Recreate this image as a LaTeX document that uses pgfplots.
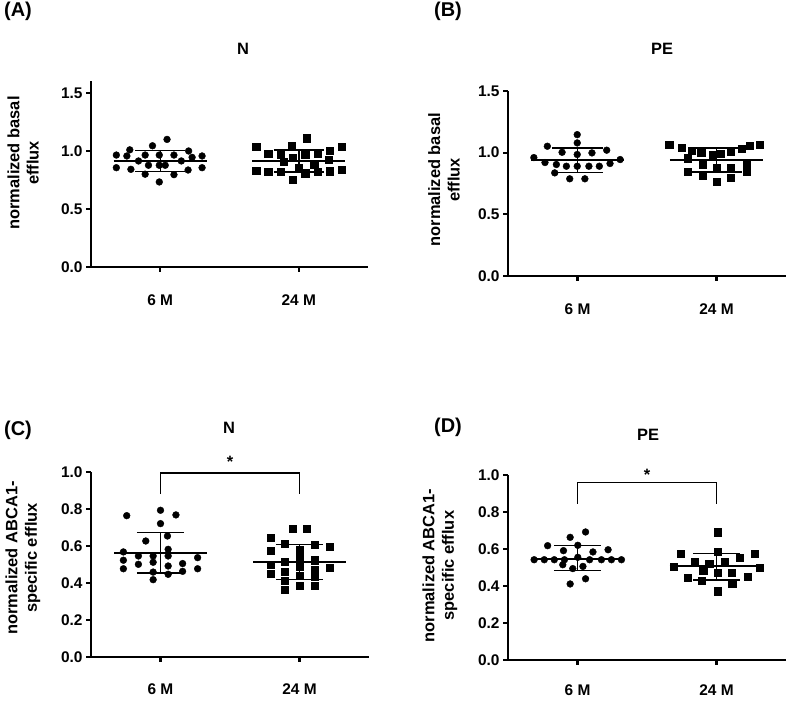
\documentclass[border=0pt]{standalone}
\usepackage{fontspec}
\setmainfont{Liberation Sans}
\usepackage{pgfplots}
\pgfplotsset{compat=1.18}
\pgfplotsset{
  panel/.style={
    scale only axis, width=278bp, height=185bp,
    axis lines=left, axis line style={-, line width=2.2bp, black},
    xmin=-0.5, xmax=1.5, ymin=0,
    xtick={0,1}, xticklabels={6 M,24 M},
    tick align=outside, major tick length=5bp, minor tick num=0,
    major tick style={line width=2.2bp, black},
    tick label style={font=\bfseries\fontsize{15.5}{18}\selectfont},
    /pgf/number format/assume math mode=true,
    yticklabel style={/pgf/number format/fixed, /pgf/number format/fixed zerofill, /pgf/number format/precision=1},
    label style={font=\bfseries\fontsize{16.5}{19.5}\selectfont, align=center},
    clip=false,
  },
  circ/.style={only marks, mark=*, mark size=3.4bp, black, mark options={draw=black, fill=black}},
  sq/.style={only marks, mark=square*, mark size=3.6bp, black, mark options={draw=black, fill=black}},
  meanl/.style={black, line width=1.9bp, no marks},
  sdl/.style={black, line width=1.5bp, no marks},
}
\begin{document}
\begin{tikzpicture}[x=1bp,y=1bp]
\path[use as bounding box] (0,0) rectangle (787,701);
\tikzset{lab/.style={font=\bfseries\fontsize{20}{24}\selectfont, inner sep=0pt, anchor=center},
         ttl/.style={font=\bfseries\fontsize{16.5}{19.5}\selectfont, inner sep=0pt, anchor=center}}

% ---------------- Panel A ----------------
\begin{axis}[panel, at={(91bp,434bp)}, anchor=south west, width=277bp, height=185.6bp,
  ymax=1.6, ytick={0,0.5,1,1.5}, xticklabel style={yshift=-19bp},
  ylabel={normalized basal\\efflux}, ylabel style={at={(axis description cs:-0.245,0.56)}, anchor=center}]
\addplot[circ] coordinates {
(-0.317,0.965) (-0.241,0.957) (-0.220,1.010) (-0.317,0.856) (-0.212,0.842) (-0.157,0.914)
(-0.109,0.965) (-0.109,0.800) (-0.085,0.877) (-0.056,1.045) (-0.007,0.965) (-0.007,0.877)
(-0.007,0.733) (0.049,1.100) (0.036,0.877) (0.099,0.965) (0.099,0.796) (0.152,0.914)
(0.201,0.836) (0.205,1.000) (0.230,0.945) (0.302,0.957) (0.302,0.856)};
\addplot[sq] coordinates {
(0.693,1.037) (0.693,0.830) (0.780,0.974) (0.780,0.819) (0.870,0.965) (0.870,0.819)
(0.893,0.905) (0.949,1.049) (0.959,0.945) (0.959,0.750) (1.002,0.851) (1.046,0.965)
(1.056,1.110) (1.046,0.808) (1.111,0.885) (1.136,0.974) (1.136,0.819) (1.215,0.928)
(1.225,1.000) (1.225,0.825) (1.309,1.037) (1.309,0.836)};
\addplot[meanl] coordinates {(-0.336,0.914) (0.336,0.914)};
\addplot[sdl] coordinates {(-0.18,1.003) (0.18,1.003)};
\addplot[sdl] coordinates {(-0.18,0.825) (0.18,0.825)};
\addplot[sdl] coordinates {(0,0.825) (0,1.003)};
\addplot[meanl] coordinates {(0.664,0.914) (1.336,0.914)};
\addplot[sdl] coordinates {(0.82,1.007) (1.18,1.007)};
\addplot[sdl] coordinates {(0.82,0.820) (1.18,0.820)};
\addplot[sdl] coordinates {(1,0.820) (1,1.007)};
\end{axis}

% ---------------- Panel B ----------------
\begin{axis}[panel, at={(508bp,425bp)}, anchor=south west, width=278bp, height=185bp,
  ymax=1.5, ytick={0,0.5,1,1.5}, xticklabel style={yshift=-19bp},
  ylabel={normalized basal\\efflux}, ylabel style={at={(axis description cs:-0.23,0.52)}, anchor=center}]
\addplot[circ] coordinates {
(-0.314,0.960) (-0.234,0.920) (-0.217,1.052) (-0.164,0.836) (-0.152,0.904) (-0.111,1.003)
(-0.080,0.890) (-0.056,0.788) (-0.002,1.079) (-0.002,1.146) (-0.002,0.985) (-0.002,0.890)
(0.053,0.788) (0.082,0.890) (0.104,0.998) (0.157,0.890) (0.210,1.020) (0.234,0.912)
(0.307,0.944)};
\addplot[sq] coordinates {
(0.66,1.066) (0.75,1.040) (0.82,1.014) (0.89,1.000) (0.97,0.979) (1.03,0.992)
(1.10,1.006) (1.18,1.035) (1.24,1.057) (1.31,1.066)
(0.79,0.955) (0.90,0.905) (1.00,0.880) (1.10,0.880) (1.22,0.910)
(0.79,0.845) (0.90,0.810) (1.00,0.765) (1.10,0.800) (1.22,0.845)};
\addplot[meanl] coordinates {(-0.336,0.944) (0.336,0.944)};
\addplot[sdl] coordinates {(-0.18,1.036) (0.18,1.036)};
\addplot[sdl] coordinates {(-0.18,0.841) (0.18,0.841)};
\addplot[sdl] coordinates {(0,0.841) (0,1.036)};
\addplot[meanl] coordinates {(0.664,0.944) (1.336,0.944)};
\addplot[sdl] coordinates {(0.82,1.039) (1.18,1.039)};
\addplot[sdl] coordinates {(0.82,0.842) (1.18,0.842)};
\addplot[sdl] coordinates {(1,0.842) (1,1.039)};
\end{axis}

% ---------------- Panel C ----------------
\begin{axis}[panel, at={(91bp,44bp)}, anchor=south west, width=278bp, height=185bp,
  ymax=1.0, ytick={0,0.2,0.4,0.6,0.8,1.0}, xticklabel style={yshift=-18bp},
  ylabel={normalized ABCA1-\\specific efflux}, ylabel style={at={(axis description cs:-0.245,0.535)}, anchor=center}]
\addplot[circ] coordinates {
(-0.267,0.568) (-0.267,0.523) (-0.267,0.477) (-0.243,0.764) (-0.159,0.546) (-0.159,0.501)
(-0.106,0.627) (-0.053,0.546) (-0.053,0.512) (-0.053,0.459) (-0.053,0.418) (0.0,0.793)
(0.0,0.721) (0.050,0.654) (0.055,0.582) (0.055,0.546) (0.055,0.492) (0.055,0.447)
(0.111,0.768) (0.159,0.505) (0.159,0.463) (0.267,0.537) (0.267,0.477)};
\addplot[sq] coordinates {
(0.791,0.645) (0.791,0.573) (0.791,0.501) (0.791,0.450) (0.894,0.613) (0.894,0.514)
(0.894,0.459) (0.894,0.414) (0.894,0.364) (0.952,0.692) (1.0,0.580) (1.0,0.541)
(1.0,0.486) (1.0,0.441) (1.0,0.387) (1.053,0.692) (1.108,0.609) (1.108,0.523)
(1.108,0.474) (1.108,0.432) (1.108,0.387) (1.216,0.598) (1.216,0.483)};
\addplot[meanl] coordinates {(-0.333,0.562) (0.333,0.562)};
\addplot[sdl] coordinates {(-0.17,0.672) (0.17,0.672)};
\addplot[sdl] coordinates {(-0.17,0.454) (0.17,0.454)};
\addplot[sdl] coordinates {(0,0.454) (0,0.672)};
\addplot[meanl] coordinates {(0.667,0.515) (1.333,0.515)};
\addplot[sdl] coordinates {(0.83,0.609) (1.17,0.609)};
\addplot[sdl] coordinates {(0.83,0.420) (1.17,0.420)};
\addplot[sdl] coordinates {(1,0.420) (1,0.609)};
\addplot[black, line width=1.3bp, no marks] coordinates {(0,0.88) (0,0.995) (1,0.995) (1,0.88)};
\node[ttl] at (axis cs:0.5,1.057) {*};
\end{axis}

% ---------------- Panel D ----------------
\begin{axis}[panel, at={(508bp,41bp)}, anchor=south west, width=278bp, height=185bp,
  ymax=1.0, ytick={0,0.2,0.4,0.6,0.8,1.0}, xticklabel style={yshift=-16bp},
  ylabel={normalized ABCA1-\\specific efflux}, ylabel style={at={(axis description cs:-0.245,0.51)}, anchor=center}]
\addplot[circ] coordinates {
(-0.312,0.542) (-0.239,0.542) (-0.167,0.542) (-0.094,0.542) (0.002,0.555) (0.087,0.542)
(0.172,0.542) (0.244,0.542) (0.316,0.542) (-0.215,0.618) (-0.101,0.591) (-0.053,0.663)
(0.002,0.620) (0.058,0.692) (0.111,0.584) (0.220,0.596) (-0.106,0.515) (-0.034,0.494)
(0.039,0.506) (-0.053,0.411) (0.058,0.439)};
\addplot[sq] coordinates {
(0.694,0.503) (0.740,0.573) (0.790,0.447) (0.843,0.533) (0.904,0.483) (0.896,0.429)
(0.947,0.521) (1.007,0.691) (1.007,0.587) (1.007,0.474) (1.007,0.372) (1.060,0.533)
(1.108,0.474) (1.113,0.411) (1.164,0.555) (1.222,0.449) (1.272,0.573) (1.313,0.497)};
\addplot[meanl] coordinates {(-0.337,0.548) (0.337,0.548)};
\addplot[sdl] coordinates {(-0.17,0.619) (0.17,0.619)};
\addplot[sdl] coordinates {(-0.17,0.483) (0.17,0.483)};
\addplot[sdl] coordinates {(0,0.483) (0,0.619)};
\addplot[meanl] coordinates {(0.663,0.506) (1.337,0.506)};
\addplot[sdl] coordinates {(0.83,0.575) (1.17,0.575)};
\addplot[sdl] coordinates {(0.83,0.433) (1.17,0.433)};
\addplot[sdl] coordinates {(1,0.433) (1,0.575)};
\addplot[black, line width=1.3bp, no marks] coordinates {(0,0.845) (0,0.96) (1,0.96) (1,0.845)};
\node[ttl] at (axis cs:0.5,1.003) {*};
\end{axis}

% titles and panel letters
\node[lab] at (18,690) {(A)};
\node[lab] at (448,690) {(B)};
\node[lab] at (18,271) {(C)};
\node[lab] at (448,274) {(D)};
\node[ttl] at (243,652) {N};
\node[ttl] at (662,652) {PE};
\node[ttl] at (229,273) {N};
\node[ttl] at (648,266) {PE};
\end{tikzpicture}
\end{document}
